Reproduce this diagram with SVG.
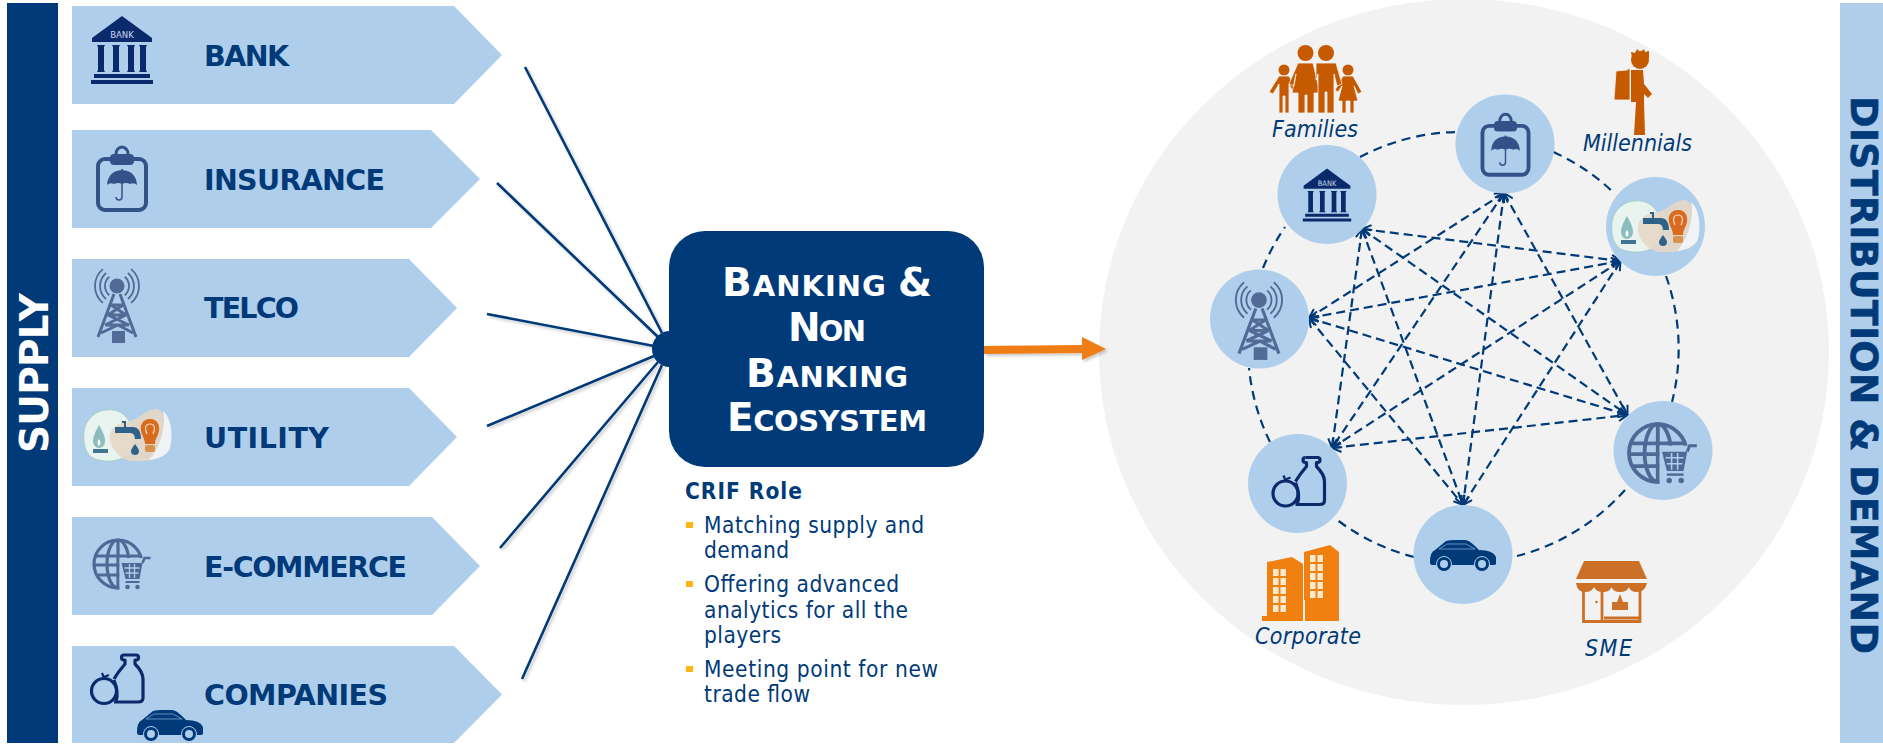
<svg xmlns="http://www.w3.org/2000/svg" xmlns:xlink="http://www.w3.org/1999/xlink" width="1883" height="745" viewBox="0 0 1883 745">
<style>
.chev{fill:#afceeb}
.lab{font-family:"DejaVu Sans",sans-serif;font-weight:700;font-size:28.5px;fill:#003a78}
.big{font-family:"DejaVu Sans",sans-serif;font-weight:700;font-size:29px;fill:#fff;text-anchor:middle}
.cap{font-size:39px}
.body{font-family:"DejaVu Sans Condensed","DejaVu Sans",sans-serif;font-size:22.5px;fill:#003a78}
.who{font-family:"DejaVu Sans Condensed","DejaVu Sans",sans-serif;font-style:italic;font-size:23px;fill:#003a78}
.node{fill:#afceeb}
.fan{stroke:#003a78;stroke-width:2.6;fill:none;filter:url(#sh)}
.ring{stroke:#003a78;stroke-width:2.2;fill:none;stroke-dasharray:9 6}
.link{stroke:#003a78;stroke-width:2.2;fill:none;stroke-dasharray:9 5;marker-start:url(#ah);marker-end:url(#ah)}
.bul{fill:#ffb511}
</style>
<defs>
<filter id="sh" x="-20%" y="-20%" width="140%" height="140%"><feDropShadow dx="2" dy="2" stdDeviation="1.5" flood-color="#000" flood-opacity="0.22"/></filter>
<marker id="ah" viewBox="0 0 12 12" refX="11" refY="6" markerWidth="12" markerHeight="12" markerUnits="userSpaceOnUse" orient="auto-start-reverse"><path d="M2,1 L11,6 L2,11" fill="none" stroke="#003a78" stroke-width="2"/></marker>
<pattern id="win" x="1273" y="569" width="7.5" height="9" patternUnits="userSpaceOnUse"><rect x="0" y="0" width="5.5" height="7" fill="#fbe9d0"/></pattern>
<pattern id="win2" x="1310" y="555" width="7.5" height="9" patternUnits="userSpaceOnUse"><rect x="0" y="0" width="5.5" height="7" fill="#fbe9d0"/></pattern>
<g id="i-bank">
<path d="M0,-34 L30,-12 V-8 H-30 V-12 Z" fill="#0b2a6b"/>
<text x="0" y="-12" font-family="DejaVu Sans Condensed,DejaVu Sans,sans-serif" font-size="9.5" fill="#c9d8ee" text-anchor="middle">BANK</text>
<path d="M-25,-5 H-17 L-18,-3 V20 L-17,22 H-25 L-24,20 V-3 Z M-10,-5 H-2 L-3,-3 V20 L-2,22 H-10 L-9,20 V-3 Z M5,-5 H13 L12,-3 V20 L13,22 H5 L6,20 V-3 Z M17,-5 H25 L24,-3 V20 L25,22 H17 L18,20 V-3 Z M-28,24 H28 V28 H-28 Z M-31,30 H31 V34 H-31 Z" fill="#0b2a6b"/>
</g>
<g id="i-ins">
<rect x="-24" y="-20" width="48" height="51" rx="7" fill="none" stroke="#34528a" stroke-width="4"/>
<rect x="-12" y="-25" width="24" height="11" rx="4" fill="#34528a"/>
<path d="M-6,-25 a6,7 0 0 1 12,0" fill="none" stroke="#34528a" stroke-width="3"/>
<path d="M-15,6 Q-14,-8 0,-9 Q14,-8 15,6 Q12,3 8,5 Q4,3 0,5 Q-4,3 -8,5 Q-12,3 -15,6Z" fill="#34528a"/>
<path d="M0,-10 V18 a3,3 0 0 1 -6,0" fill="none" stroke="#34528a" stroke-width="1.5"/>
</g>
<g id="i-tower" fill="none" stroke="#516a96">
<circle cx="-1" cy="-19" r="7.5" fill="#516a96" stroke="none"/>
<path stroke-width="1.8" d="M-8.7,-28.2 A12,12 0 0 0 -8.7,-9.8 M-11.9,-32 A17,17 0 0 0 -11.9,-6 M-15.1,-35.9 A22,22 0 0 0 -15.1,-2.1 M6.7,-28.2 A12,12 0 0 1 6.7,-9.8 M9.9,-32 A17,17 0 0 1 9.9,-6 M13.1,-35.9 A22,22 0 0 1 13.1,-2.1"/>
<path stroke-width="3" d="M-4,-11 L-20,32 M2,-11 L18,32 M-7,0 H5 M-10,10 H8 M-13,20 H11 M-7,0 L8,10 M5,0 L-10,10 M-10,10 L11,20 M8,10 L-13,20 M-17,28 L0,20 L15,28"/>
<rect x="-6" y="26" width="13" height="12" fill="#516a96" stroke="none"/>
</g>
<g id="i-util">
<path d="M-20,-26 C-5,-28 8,-15 6,5 C5,22 -12,28 -28,24 C-43,22 -44,5 -43,-5 C-41,-18 -30,-26 -20,-26 Z" fill="#e9f3f0" stroke="#9ccbbd" stroke-width="0.8"/>
<path d="M30,-27 C42,-22 46,-2 43,12 C40,22 22,26 8,25 C-6,26 -18,12 -17,0 C-15,-16 2,-12 12,-19 C18,-24 24,-27 30,-27 Z" fill="#e6d8c6" fill-opacity="0.9"/>
<path d="M36,-25 C45,-18 46,2 43,12 C40,20 30,23 22,24 C32,14 40,-10 36,-25 Z" fill="#f0f4f6"/>
<path d="M-28,-11 C-24,-4 -22,1 -22,5 A6,7 0 0 1 -34,5 C-34,1 -32,-4 -28,-11 Z" fill="#8cbcbc"/>
<path d="M-28,3 C-26,6 -26,8 -28,10 C-30,8 -30,6 -28,3 Z" fill="#fff"/>
<rect x="-34" y="13" width="15" height="4" fill="#3f7590"/>
<path d="M-5,-15 h4 v2 h-4 Z M-12,-9 H6 C11,-9 14,-5 14,3 H8 C8,-1 6,-3 3,-3 H-12 Z M-3,-13 h2 v5 h-2 Z" fill="#2f6288"/>
<path d="M8,8 C10,11 12,13 12,15 A4,4 0 0 1 4,15 C4,13 6,11 8,8 Z" fill="#2f6288"/>
<path d="M23,-17 C31,-17 33,-10 32,-5 C31,0 28,3 28,8 H18 C18,3 15,0 14,-5 C13,-10 15,-17 23,-17 Z" fill="#d96b1e"/>
<rect x="18" y="9" width="10" height="7" rx="2" fill="#d9914e"/>
<path d="M20,-2 C17,-9 19,-12 23,-12 C27,-12 29,-9 26,-2" fill="none" stroke="#f3d9bf" stroke-width="1.2"/>
</g>
<g id="i-globe">
<g fill="none" stroke="#4d6a96" stroke-width="3.2">
<circle cx="-3.5" cy="0" r="24"/>
<ellipse cx="-3.5" cy="0" rx="11" ry="24"/>
<path d="M-3.5,-24 V24 M-26,-8 H19 M-27,1 H20 M-24,11 H18"/>
</g>
<path d="M-2,-6 H28 V26 H-2 Z" fill="#afceeb"/>
<path d="M0,-1 H21 L18,15 H4 Z" fill="#4d6a96"/>
<path d="M21,-1 L23,-6 H29" fill="none" stroke="#4d6a96" stroke-width="2.5"/>
<path d="M3,4 H18 M4,9 H17 M8,0 V14 M13,0 V14" stroke="#afceeb" stroke-width="1.3"/>
<path d="M4,18 H18" stroke="#4d6a96" stroke-width="2"/>
<circle cx="6" cy="23" r="2.3" fill="#4d6a96"/><circle cx="16" cy="23" r="2.3" fill="#4d6a96"/>
</g>
<g id="i-food" fill="none" stroke="#0b2a6b" stroke-width="3.2" stroke-linejoin="round">
<path d="M7,-25 H19 A2.5,2.5 0 0 1 19,-20 H18 V-16 Q26,-8 26,-1 V18 Q26,22 21,22 H-3"/>
<path d="M7,-25 A2.5,2.5 0 0 0 7,-20 H8 V-16 Q1,-8 -3,-1"/>
<path d="M-3,0 Q2,12 -1,21"/>
<circle cx="-13" cy="11" r="12.5"/>
<path d="M-13,-2 L-15,-7 M-13,-3 L-8,-5" stroke-width="2.2"/>
</g>
<g id="i-car">
<path d="M-33,7 Q-33,-3 -28,-5 L-17,-14 Q-14,-15 -8,-15 H2 Q6,-15 12,-9 L16,-5 Q30,-5 33,2 V9 Q33,10 30,10 H-31 Q-33,10 -33,7Z" fill="#003a78"/>
<path d="M-24,-6 L-16,-11 H3 L12,-6 Z" fill="none" stroke="#7fa3c9" stroke-width="0.8"/>
<circle cx="-19" cy="9" r="7.5" fill="#003a78" stroke="#afceeb" stroke-width="1"/>
<circle cx="-19" cy="9" r="4" fill="#afceeb"/>
<circle cx="19" cy="9" r="7.5" fill="#003a78" stroke="#afceeb" stroke-width="1"/>
<circle cx="19" cy="9" r="4" fill="#afceeb"/>
</g>
</defs>
<rect width="1883" height="745" fill="#fff"/>
<ellipse id="backdrop" cx="1464" cy="352" rx="365" ry="353" fill="#f2f2f2"/>

<g id="supply-bar"><rect x="7" y="3" width="51" height="740" fill="#003a78"/>
<text transform="translate(48,453) rotate(-90)" font-family="DejaVu Sans,sans-serif" font-weight="700" font-size="39" fill="#fff" textLength="160">SUPPLY</text></g>
<g id="demand-bar"><rect x="1840" y="3" width="43" height="740" fill="#afceeb"/>
<text transform="translate(1851,96) rotate(90)" font-family="DejaVu Sans,sans-serif" font-weight="700" font-size="38" fill="#003a78" stroke="#003a78" stroke-width="0.6" textLength="558">DISTRIBUTION &amp; DEMAND</text></g>

<g id="bank"><path class="chev" d="M72,6 H454 L502,55 L454,104 H72 Z"/><use href="#i-bank" x="122" y="50"/><text class="lab" x="204" y="66" textLength="85">BANK</text></g>
<g id="insurance"><path class="chev" d="M72,130 H431 L480,179 L431,228 H72 Z"/><use href="#i-ins" x="122" y="179"/><text class="lab" x="204" y="190" textLength="181">INSURANCE</text></g>
<g id="telco"><path class="chev" d="M72,259 H409 L457,308 L409,357 H72 Z"/><use href="#i-tower" x="118" y="305"/><text class="lab" x="204" y="318" textLength="95">TELCO</text></g>
<g id="utility"><path class="chev" d="M72,388 H409 L457,437 L409,486 H72 Z"/><use href="#i-util" x="127" y="436"/><text class="lab" x="204" y="448" textLength="125">UTILITY</text></g>
<g id="e-commerce"><path class="chev" d="M72,517 H432 L480,566 L432,615 H72 Z"/><use href="#i-globe" x="121.5" y="564"/><text class="lab" x="204" y="577" textLength="203">E-COMMERCE</text></g>
<g id="companies"><path class="chev" d="M72,646 H454 L502,694.5 L454,743 H72 Z"/><use href="#i-food" x="117" y="680"/><use href="#i-car" x="170" y="725"/><text class="lab" x="204" y="705" textLength="184">COMPANIES</text></g>

<g id="connectors">
<path class="fan" d="M525,67 L662,333 M497,183 L658,337 M487,314 L654,346 M487,426 L654,356 M500,548 L658,362 M522,679 L662,365"/>
<path id="out-arrow" d="M984,346 L1082,345 V337 L1106,349 L1082,360 V353 L984,354 Z" fill="#ef7d12" filter="url(#sh)"/>
<path class="ring" d="M1360,157 A216,216 0 0 1 1456,132"/>
<path class="ring" d="M1553.5,152 A216,216 0 0 1 1614,193"/>
<path class="ring" d="M1666,276 A216,216 0 0 1 1672,402"/>
<path class="ring" d="M1625,490 A216,216 0 0 1 1517,556"/>
<path class="ring" d="M1414,557 A216,216 0 0 1 1336,519"/>
<path class="ring" d="M1270,442 A216,216 0 0 1 1249,368"/>
<path class="ring" d="M1263,268 A216,216 0 0 1 1285,227"/>
<path class="link" d="M1362,229 L1620.5,261"/>
<path class="link" d="M1362,229 L1627.5,415"/>
<path class="link" d="M1362,229 L1463,505"/>
<path class="link" d="M1362,229 L1332,448"/>
<path class="link" d="M1504,193 L1309,318"/>
<path class="link" d="M1504,193 L1332,448"/>
<path class="link" d="M1504,193 L1463,505"/>
<path class="link" d="M1504,193 L1627.5,415"/>
<path class="link" d="M1620.5,261 L1309,318"/>
<path class="link" d="M1620.5,261 L1332,448"/>
<path class="link" d="M1620.5,261 L1463,505"/>
<path class="link" d="M1309,318 L1627.5,415"/>
<path class="link" d="M1309,318 L1463,505"/>
<path class="link" d="M1332,448 L1627.5,415"/>
</g>

<g id="hub"><circle cx="670" cy="349" r="18" fill="#003a78"/></g>
<g id="ecosystem"><rect x="669" y="231" width="315" height="236" rx="36" fill="#003a78"/>
<text class="big" x="827" y="296" textLength="210"><tspan class="cap">B</tspan>ANKING <tspan class="cap">&amp;</tspan></text>
<text class="big" x="827" y="341" textLength="78"><tspan class="cap">N</tspan>ON</text>
<text class="big" x="827" y="387" textLength="162"><tspan class="cap">B</tspan>ANKING</text>
<text class="big" x="827" y="431" textLength="200"><tspan class="cap">E</tspan>COSYSTEM</text>
</g>
<g id="crif-role">
<text class="body" x="685" y="499" font-weight="700" textLength="117">CRIF Role</text>
<rect class="bul" x="686" y="522" width="7" height="6"/>
<text class="body" x="704" y="533" textLength="220">Matching supply and</text>
<text class="body" x="704" y="558" textLength="85">demand</text>
<rect class="bul" x="686" y="581" width="7" height="6"/>
<text class="body" x="704" y="592" textLength="195">Offering advanced</text>
<text class="body" x="704" y="618" textLength="204">analytics for all the</text>
<text class="body" x="704" y="643" textLength="77">players</text>
<rect class="bul" x="686" y="666" width="7" height="6"/>
<text class="body" x="704" y="677" textLength="234">Meeting point for new</text>
<text class="body" x="704" y="702" textLength="106">trade flow</text>
</g>

<g id="n-bank"><circle class="node" cx="1327" cy="194.5" r="49.5"/><use href="#i-bank" transform="translate(1327,195) scale(0.78)"/></g>
<g id="n-insurance"><circle class="node" cx="1505" cy="144" r="49.5"/><use href="#i-ins" transform="translate(1505.5,145) scale(0.96)"/></g>
<g id="n-utility"><circle class="node" cx="1655.5" cy="226.5" r="49.5"/><use href="#i-util" transform="translate(1655,227)"/></g>
<g id="n-telco"><circle class="node" cx="1259.5" cy="319" r="49.5"/><use href="#i-tower" transform="translate(1260,320) scale(1.05)"/></g>
<g id="n-food"><circle class="node" cx="1297.5" cy="483.5" r="49.5"/><use href="#i-food" transform="translate(1298.5,482.5)"/></g>
<g id="n-car"><circle class="node" cx="1463" cy="554.5" r="49.5"/><use href="#i-car" transform="translate(1463,555)"/></g>
<g id="n-globe"><circle class="node" cx="1663" cy="450.5" r="49.5"/><use href="#i-globe" transform="translate(1662,453) scale(1.2)"/></g>

<g id="families"><g fill="#c55a00" stroke="#f2f2f2" stroke-width="0.8">
<circle cx="1305.5" cy="53" r="8" stroke="none"/><circle cx="1326" cy="53" r="8" stroke="none"/><circle cx="1284" cy="70" r="5.5" stroke="none"/><circle cx="1348" cy="70" r="5.5" stroke="none"/>
<path d="M1279,76 H1289 L1296,90 L1293,92 L1289,84 V113 H1285 V96 H1283 V113 H1279 V84 L1273,94 L1269,92 Z"/>
<path d="M1343,76 H1353 L1362,92 L1358,94 L1354,86 L1358,101 H1354 V113 H1350 V101 H1346 V113 H1342 V101 H1338 L1342,86 L1338,92 L1335,90 Z"/>
<path d="M1298,63 H1313 L1320,93 H1314 V113 H1307 V95 H1305 V113 H1298 V93 H1292 L1296,74 L1294,86 L1289,84 Z"/>
<path d="M1316,63 H1336 L1342,84 L1337,86 L1334,74 V113 H1327 V92 H1325 V113 H1318 V74 L1316,80 Z"/>
</g><text class="who" x="1272" y="137" textLength="86">Families</text></g>
<g id="millennials"><g fill="#c55a00">
<circle cx="1640" cy="60" r="9"/>
<path d="M1632,58 L1631,52 L1635,53 L1637,49 L1640,52 L1644,49 L1645,52 L1649,51 L1649,58 Z"/>
<path d="M1631,70 H1643 L1644,84 L1652,94 L1648,98 L1644,94 V102 L1645,135 H1634 L1636,102 H1631 Z"/>
<path d="M1616,71 L1627,70 L1630,68 V100 H1614 Z" stroke="#f2f2f2" stroke-width="0.8"/>
</g><text class="who" x="1583" y="151" textLength="109">Millennials</text></g>
<g id="corporate"><path d="M1262,621 V616 H1267 V562 L1292,557 L1303,564 V616 H1311 V621 Z" fill="#f08010"/>
<path d="M1304,621 V552 L1330,545 L1339,552 V621 Z" fill="#f08010"/>
<rect x="1273" y="569" width="13" height="43" fill="url(#win)"/>
<rect x="1310" y="555" width="13" height="43" fill="url(#win2)"/>
<rect x="1303" y="600" width="2" height="21" fill="#f2f2f2"/>
<text class="who" x="1255" y="644" textLength="106">Corporate</text></g>
<g id="sme"><path d="M1584,561 H1639 L1647,579 H1576 Z" fill="#cc7027"/>
<path d="M1576,583 H1647 Q1645,592 1637,592 Q1630,592 1629,587 Q1627,592 1620,592 Q1613,592 1611.5,587 Q1610,592 1603,592 Q1596,592 1594,587 Q1592,592 1585,592 Q1577,592 1576,583 Z" fill="#cc7027"/>
<path d="M1583.5,590 V621.5 H1640 V590 M1602,590 V621 M1604,618 H1640" fill="none" stroke="#cc7027" stroke-width="2.8"/>
<circle cx="1596.5" cy="602" r="1.3" fill="#cc7027"/>
<path d="M1612,602 H1617 L1620,594 L1623,602 H1628 V610 H1612 Z" fill="#cc7027"/>
<text class="who" x="1585" y="656" textLength="47">SME</text></g>
</svg>
